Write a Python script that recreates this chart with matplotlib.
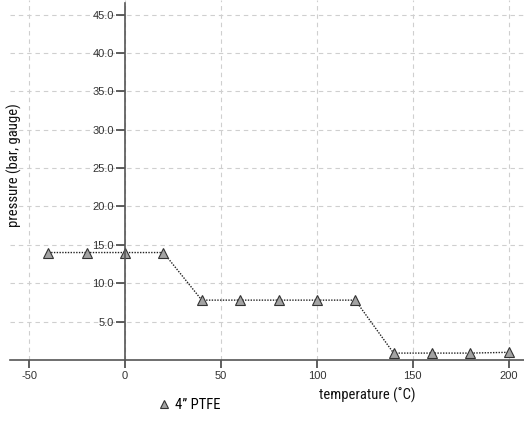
import matplotlib
matplotlib.use("Agg")
import matplotlib.pyplot as plt
from matplotlib import font_manager

# Rating data: pressure vs temperature for 4" PTFE
temperature = [-40, -20, 0, 20, 40, 60, 80, 100, 120, 140, 160, 180, 200]
pressure = [14.0, 14.0, 14.0, 14.0, 7.8, 7.8, 7.8, 7.8, 7.8, 0.9, 0.9, 0.9, 1.0]
series_label = "4\u201d PTFE"
x_ticks = [-50, 0, 50, 100, 150, 200]
y_ticks = [5, 10, 15, 20, 25, 30, 35, 40, 45]

names = {f.name for f in font_manager.fontManager.ttflist}
narrow = [n for n in ["Liberation Sans Narrow", "Roboto Condensed", "Open Sans Condensed"] if n in names]
label_family = narrow + ["Liberation Sans", "DejaVu Sans"]
tick_family = ["Liberation Sans", "DejaVu Sans"]

W, H = 524, 442
fig = plt.figure(figsize=(W / 100, H / 100), dpi=100)
ax = fig.add_axes([10 / W, (H - 360) / H, (W - 10) / W, 360 / H])

ax.set_xlim(-60, 208)
ax.set_ylim(0, 46.9)

ax.grid(True, color="#cfcfcf", linestyle=(0, (4, 3.5)), linewidth=0.8)
ax.set_axisbelow(True)

for side in ("top", "right"):
    ax.spines[side].set_visible(False)
ax.spines["left"].set_position(("data", 0))
ax.spines["bottom"].set_position(("data", 0))
for side in ("left", "bottom"):
    ax.spines[side].set_color("#555555")
    ax.spines[side].set_linewidth(1.2)
ax.spines["left"].set_bounds(0, 46.5)

ax.set_xticks(x_ticks)
ax.set_yticks(y_ticks)
ax.set_xticklabels([str(t) for t in x_ticks], family=tick_family)
ax.set_yticklabels([f"{t:.1f}" for t in y_ticks], family=tick_family)
ax.tick_params(axis="both", direction="out", colors="#444444", labelcolor="#333333",
               labelsize=8, width=1.2)
ax.tick_params(axis="y", length=6.5, pad=1.5)
ax.tick_params(axis="x", length=6, pad=2)

line, = ax.plot(temperature, pressure, linestyle=(0, (1, 1)), color="#222222", linewidth=1.0,
                marker="^", markersize=7, markerfacecolor="#a3a3a3",
                markeredgecolor="#333333", markeredgewidth=0.8, clip_on=False)

fig.text(367 / W, 1 - 395 / H, "temperature (\u02daC)", ha="center", va="center",
         fontsize=10.5, family=label_family, color="#111111")
fig.text(14 / W, 1 - 165 / H, "pressure (bar, gauge)", ha="center", va="center",
         rotation=90, fontsize=10.5, family=label_family, color="#111111")

fig.legend([line], [series_label], loc="center left", bbox_to_anchor=(152 / W, 1 - 405 / H),
           frameon=False, handlelength=0.8, handletextpad=0.4, borderaxespad=0,
           prop={"family": label_family, "size": 10.5}, markerscale=0.75)
leg = fig.legends[0]
for h in leg.legend_handles:
    h.set_linestyle("none")

fig.savefig("out.png", dpi=100)
